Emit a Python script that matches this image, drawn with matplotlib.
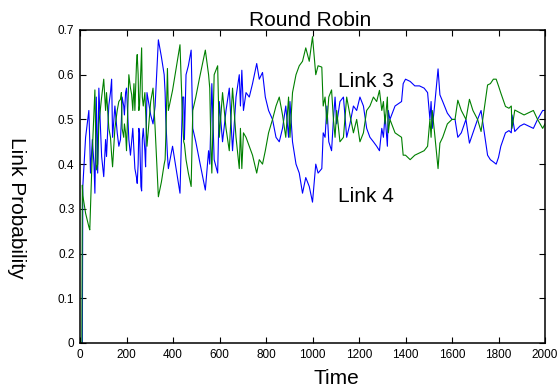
import numpy as np
import matplotlib.pyplot as plt

plt.rcParams['font.family'] = ['Liberation Sans', 'DejaVu Sans']

# time steps where the probabilities were sampled
time = [0, 8, 10, 12, 24, 38, 42, 45, 53, 60, 64, 70, 76, 81, 93, 102, 110, 114, 124, 131,
        136, 140, 150, 160, 167, 174, 178, 181, 188, 191, 196, 200, 210, 217, 222, 227, 232, 236, 243, 246,
        250, 253, 256, 262, 265, 268, 272, 279, 282, 288, 304, 314, 323, 337, 350, 362, 366, 369, 376, 380,
        398, 415, 430, 441, 446, 449, 456, 466, 478, 485, 498, 513, 539, 553, 558, 563, 567, 577, 592, 599,
        613, 628, 642, 656, 671, 685, 690, 696, 703, 714, 728, 742, 760, 771, 785, 797, 811, 828, 843, 857,
        871, 885, 897, 903, 914, 929, 943, 957, 971, 986, 1000, 1014, 1024, 1040, 1046, 1054, 1062, 1070, 1082, 1090,
        1097, 1104, 1118, 1133, 1147, 1161, 1176, 1190, 1204, 1219, 1233, 1247, 1262, 1276, 1288, 1298, 1305, 1312, 1322, 1326,
        1333, 1355, 1383, 1390, 1400, 1420, 1440, 1460, 1480, 1495, 1505, 1510, 1515, 1525, 1540, 1548, 1560, 1580, 1600, 1613,
        1625, 1640, 1660, 1675, 1690, 1710, 1725, 1753, 1765, 1778, 1790, 1800, 1810, 1830, 1845, 1855, 1858, 1870, 1892, 1910,
        1930, 1950, 1968, 1990, 2000]

link3 = [0.0, 0.0, 0.353, 0.33, 0.29, 0.26, 0.253, 0.30, 0.43, 0.52, 0.566, 0.387, 0.40, 0.49, 0.55, 0.59, 0.52, 0.56, 0.48, 0.46,
         0.42, 0.394, 0.48, 0.52, 0.54, 0.545, 0.56, 0.48, 0.46, 0.49, 0.47, 0.43, 0.60, 0.57, 0.556, 0.52, 0.58, 0.52, 0.626, 0.645,
         0.60, 0.52, 0.53, 0.62, 0.66, 0.55, 0.53, 0.56, 0.52, 0.44, 0.54, 0.57, 0.48, 0.327, 0.36, 0.40, 0.41, 0.46, 0.614, 0.52,
         0.565, 0.62, 0.667, 0.50, 0.45, 0.445, 0.41, 0.38, 0.35, 0.52, 0.55, 0.59, 0.655, 0.60, 0.57, 0.44, 0.38, 0.60, 0.62, 0.46,
         0.56, 0.48, 0.43, 0.57, 0.46, 0.39, 0.48, 0.39, 0.47, 0.46, 0.44, 0.42, 0.38, 0.41, 0.40, 0.43, 0.47, 0.50, 0.53, 0.55,
         0.51, 0.46, 0.55, 0.46, 0.56, 0.60, 0.62, 0.63, 0.66, 0.63, 0.685, 0.60, 0.62, 0.617, 0.53, 0.55, 0.49, 0.55, 0.566, 0.50,
         0.46, 0.52, 0.45, 0.46, 0.55, 0.51, 0.47, 0.50, 0.45, 0.47, 0.52, 0.53, 0.55, 0.54, 0.565, 0.52, 0.54, 0.49, 0.55, 0.47,
         0.50, 0.47, 0.46, 0.42, 0.42, 0.41, 0.42, 0.425, 0.43, 0.44, 0.50, 0.46, 0.52, 0.47, 0.39, 0.447, 0.46, 0.49, 0.50, 0.50,
         0.543, 0.52, 0.50, 0.545, 0.52, 0.50, 0.473, 0.577, 0.58, 0.59, 0.59, 0.575, 0.559, 0.529, 0.525, 0.53, 0.48, 0.521, 0.515, 0.51,
         0.515, 0.52, 0.50, 0.48, 0.49]

link4 = [0.0, 0.0, 0.0, 0.35, 0.46, 0.52, 0.45, 0.38, 0.455, 0.40, 0.335, 0.55, 0.38, 0.57, 0.417, 0.372, 0.455, 0.417, 0.532, 0.56,
         0.59, 0.46, 0.53, 0.47, 0.44, 0.455, 0.50, 0.55, 0.53, 0.51, 0.56, 0.57, 0.455, 0.42, 0.45, 0.48, 0.43, 0.39, 0.37, 0.357,
         0.40, 0.48, 0.47, 0.35, 0.34, 0.455, 0.48, 0.43, 0.394, 0.56, 0.51, 0.49, 0.53, 0.678, 0.64, 0.60, 0.56, 0.50, 0.42, 0.39,
         0.44, 0.385, 0.335, 0.55, 0.55, 0.455, 0.60, 0.62, 0.655, 0.48, 0.45, 0.41, 0.342, 0.43, 0.40, 0.50, 0.58, 0.41, 0.38, 0.54,
         0.45, 0.52, 0.57, 0.43, 0.55, 0.60, 0.53, 0.61, 0.52, 0.56, 0.55, 0.58, 0.625, 0.59, 0.605, 0.55, 0.52, 0.50, 0.46, 0.45,
         0.48, 0.53, 0.46, 0.54, 0.45, 0.40, 0.38, 0.335, 0.37, 0.35, 0.315, 0.40, 0.38, 0.39, 0.47, 0.46, 0.53, 0.45, 0.43, 0.50,
         0.55, 0.49, 0.54, 0.55, 0.46, 0.49, 0.53, 0.52, 0.55, 0.53, 0.48, 0.46, 0.45, 0.44, 0.43, 0.48, 0.46, 0.51, 0.44, 0.52,
         0.50, 0.53, 0.54, 0.58, 0.59, 0.585, 0.575, 0.575, 0.57, 0.56, 0.50, 0.54, 0.48, 0.53, 0.613, 0.555, 0.54, 0.514, 0.50, 0.50,
         0.46, 0.47, 0.50, 0.447, 0.47, 0.50, 0.52, 0.42, 0.41, 0.405, 0.40, 0.415, 0.44, 0.47, 0.475, 0.47, 0.51, 0.473, 0.485, 0.49,
         0.485, 0.48, 0.50, 0.52, 0.52]

fig = plt.figure(figsize=(5.58, 3.88), dpi=100)
ax = fig.add_axes([0.1434, 0.116, 0.8333, 0.8067])

ax.plot(time, link4, color='#0000ff', lw=0.8)
ax.plot(time, link3, color='#008000', lw=0.8)

ax.set_xlim(0, 2000)
ax.set_ylim(0, 0.7)
ax.set_xticks(np.arange(0, 2001, 200))
ax.set_yticks(np.arange(0, 0.71, 0.1))
ax.set_yticklabels(['0', '0.1', '0.2', '0.3', '0.4', '0.5', '0.6', '0.7'])
ax.tick_params(direction='in', top=True, right=True, length=4, width=0.8, labelsize=8.5, pad=4)
for s in ax.spines.values():
    s.set_linewidth(1.1)

ax.text(1110, 0.584, 'Link 3', fontsize=15, ha='left', va='center')
ax.text(1110, 0.327, 'Link 4', fontsize=15, ha='left', va='center')

fig.text(310 / 558, 1 - 20 / 388, 'Round Robin', fontsize=15, ha='center', va='center')
fig.text(336 / 558, 1 - 378 / 388, 'Time', fontsize=15, ha='center', va='center')
fig.text(16 / 558, 1 - 208 / 388, 'Link Probability', fontsize=15, ha='center', va='center', rotation=-90)

fig.savefig('out.png', dpi=100)
